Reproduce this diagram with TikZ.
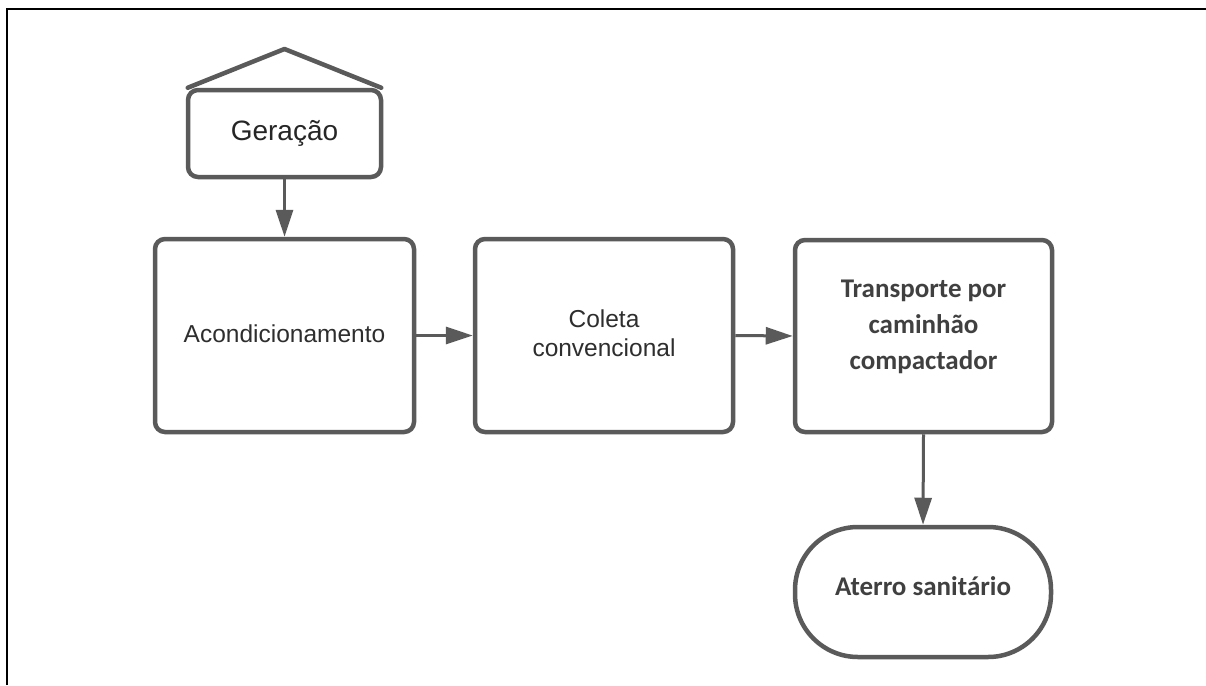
\documentclass[tikz,border=0pt]{standalone}
\usepackage{fontspec}
\setmainfont{Liberation Sans}
\newfontfamily\carlito{Carlito}
\usetikzlibrary{arrows.meta}

\definecolor{edge}{HTML}{5A5A5A}
\definecolor{ink}{HTML}{2E2E2E}
\definecolor{inkb}{HTML}{404040}

\tikzset{
  stepbox/.style={draw=edge, line width=4.5pt, rounded corners=10pt, fill=white,
    align=center, text=ink, inner sep=0pt},
  flowarrow/.style={draw=edge, line width=3pt,
    -{Triangle[length=27pt, width=17pt]}},
  boldlabel/.style={font=\carlito\bfseries\fontsize{27}{36}\selectfont, text=inkb,
    align=center, inner sep=0pt},
  plainlabel/.style={font=\fontsize{24.5}{29}\selectfont, text=ink,
    align=center, inner sep=0pt}
}

\begin{document}
\begin{tikzpicture}[x=1pt, y=-1pt]
  \useasboundingbox (0,0) rectangle (1206,685);
  \fill[white] (0,0) rectangle (1206,685);

  % outer frame (top and left sides)
  \draw[black, line width=2.5pt] (7,685) -- (7,9) -- (1206,9);

  % start node with roof
  \node[stepbox, minimum width=193pt, minimum height=87pt,
        font=\fontsize{28}{32}\selectfont, text=black!85] (ger) at (284.5,133.5) {Geração};
  \coordinate (apex) at (284.5,49);
  \draw[edge, line width=4.5pt, line join=round, line cap=round]
    ([xshift=2pt]ger.north west) -- (apex) -- ([xshift=-2pt]ger.north east);

  % process boxes
  \node[stepbox, minimum width=259pt, minimum height=193pt] (aco) at (284.5,335.5) {};
  \node[plainlabel] (acoText) at ([yshift=2pt]aco.center) {Acondicionamento};

  \node[stepbox, minimum width=258pt, minimum height=193pt] (col) at (604,335.5) {};
  \node[plainlabel] (colText) at ([yshift=2pt]col.center) {Coleta\\convencional};

  \node[stepbox, minimum width=257pt, minimum height=192pt] (tra) at (923.5,336) {};
  \node[boldlabel] (traText) at ([yshift=9pt]tra.center) {Transporte por\\caminhão\\compactador};

  % terminal
  \node[stepbox, rounded corners=63pt, minimum width=256pt, minimum height=130pt] (ate) at (923,592) {};
  \node[boldlabel] (ateText) at ([yshift=6pt]ate.center) {Aterro sanitário};

  % connectors
  \draw[flowarrow] (ger.south) -- (aco.north);
  \draw[flowarrow] (aco.east) -- (col.west);
  \draw[flowarrow] (col.east) -- (tra.west);
  \draw[flowarrow] (tra.south) -- (ate.north);
\end{tikzpicture}
\end{document}
